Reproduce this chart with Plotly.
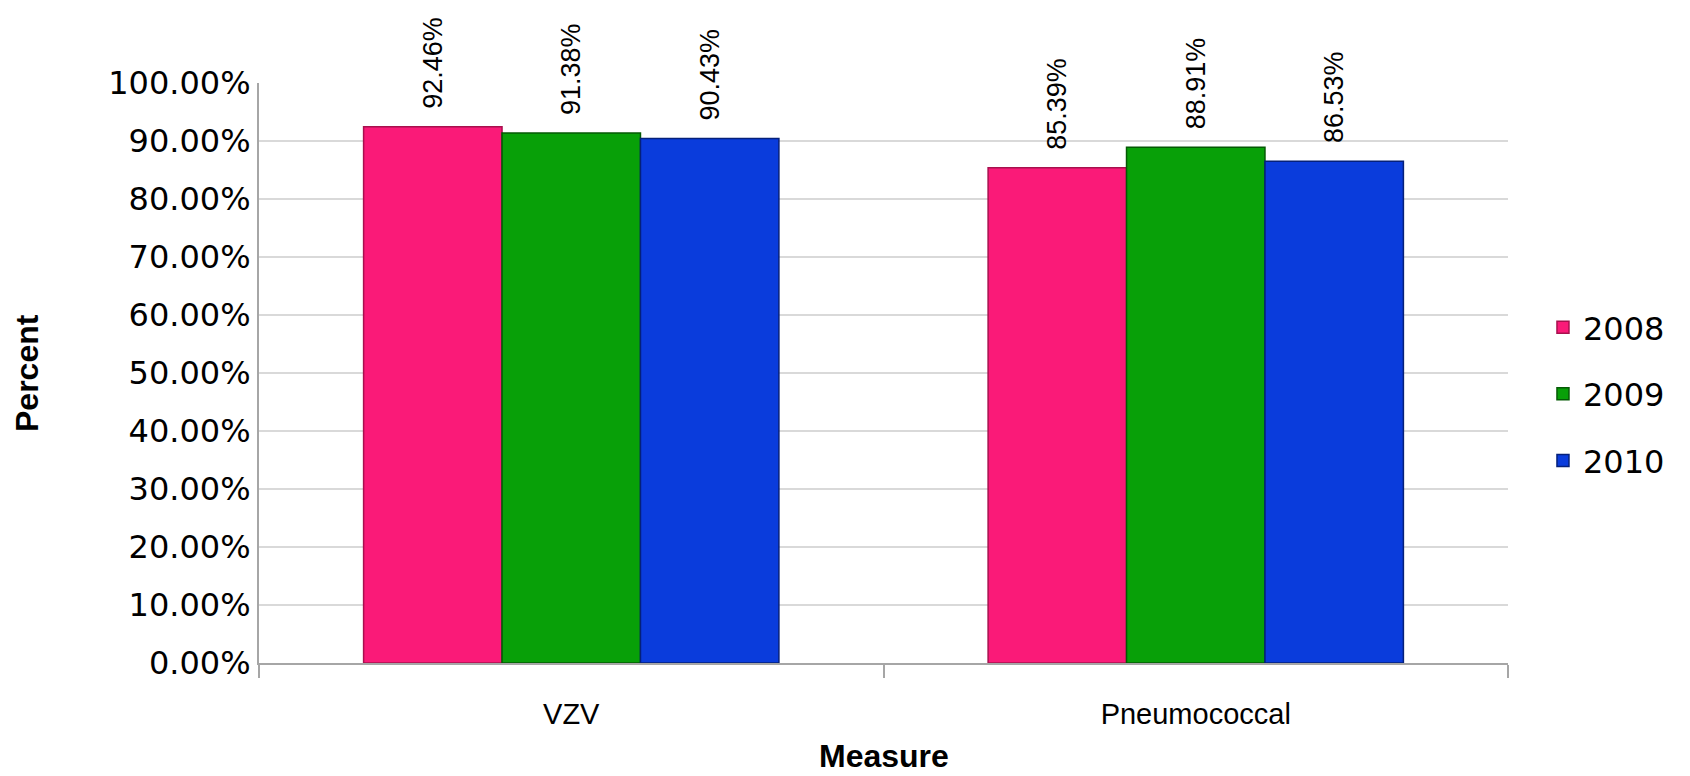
import plotly.graph_objects as go

categories = ["VZV", "Pneumococcal"]
years = ["2008", "2009", "2010"]
values_2008 = [92.46, 85.39]
values_2009 = [91.38, 88.91]
values_2010 = [90.43, 86.53]
y_ticks = [0, 10, 20, 30, 40, 50, 60, 70, 80, 90, 100]
y_tick_labels = [f"{v:.2f}%" for v in y_ticks]

series = [values_2008, values_2009, values_2010]
colors = ["#FA1A78", "#08A008", "#0A3CDC"]
edges = ["#A8104E", "#045A04", "#05207A"]

fig = go.Figure()
for name, vals, col, edge in zip(years, series, colors, edges):
    fig.add_trace(go.Bar(
        x=categories, y=vals, name=name, legendgroup=name,
        marker=dict(color=col, line=dict(color=edge, width=1.5)),
        texttemplate="\u00a0\u00a0%{y:.2f}%", textposition="outside", textangle=-90,
        constraintext="none", cliponaxis=False,
        textfont=dict(family="Liberation Sans, Arial, sans-serif", size=27, color="#000000"),
    ))

# page body has an 8px margin, so the figure is drawn 8px in from the window edge
fig.update_layout(
    width=1682, height=768,
    paper_bgcolor="white", plot_bgcolor="white",
    margin=dict(l=251, r=182, t=75, b=113),
    barmode="group", bargap=0.335, bargroupgap=0,
    showlegend=True,
    legend=dict(x=1.028, xanchor="left", y=0.464, yanchor="middle",
                font=dict(family="DejaVu Sans, Verdana, sans-serif", size=32, color="#000000"),
                tracegroupgap=22, bgcolor="rgba(0,0,0,0)"),
    xaxis=dict(showline=True, linecolor="#A6A6A6", linewidth=2,
               ticks="outside", tickson="boundaries", ticklen=13, tickcolor="#A6A6A6", tickwidth=2,
               ticklabelstandoff=24,
               tickfont=dict(family="Liberation Sans, Arial, sans-serif", size=29, color="#000000"),
               showgrid=False),
    yaxis=dict(range=[0, 100], tickvals=y_ticks, ticktext=y_tick_labels,
               showline=True, linecolor="#A6A6A6", linewidth=2,
               showgrid=True, gridcolor="#D9D9D9", gridwidth=2,
               zeroline=False, ticks="", ticklabelstandoff=0,
               tickfont=dict(family="DejaVu Sans, Verdana, sans-serif", size=32, color="#000000")),
    annotations=[
        dict(text="<b>Percent</b>", x=0, xref="paper", y=0.5, yref="paper", showarrow=False,
             textangle=-90, font=dict(family="Liberation Sans, Arial, sans-serif", size=32, color="#000000"),
             xanchor="center", yanchor="middle", xshift=-232),
        dict(text="<b>Measure</b>", x=0.5, xref="paper", y=0, yref="paper", showarrow=False,
             font=dict(family="Liberation Sans, Arial, sans-serif", size=32, color="#000000"),
             xanchor="center", yanchor="middle", yshift=-93),
    ],
)

fig.write_html("out.html")
